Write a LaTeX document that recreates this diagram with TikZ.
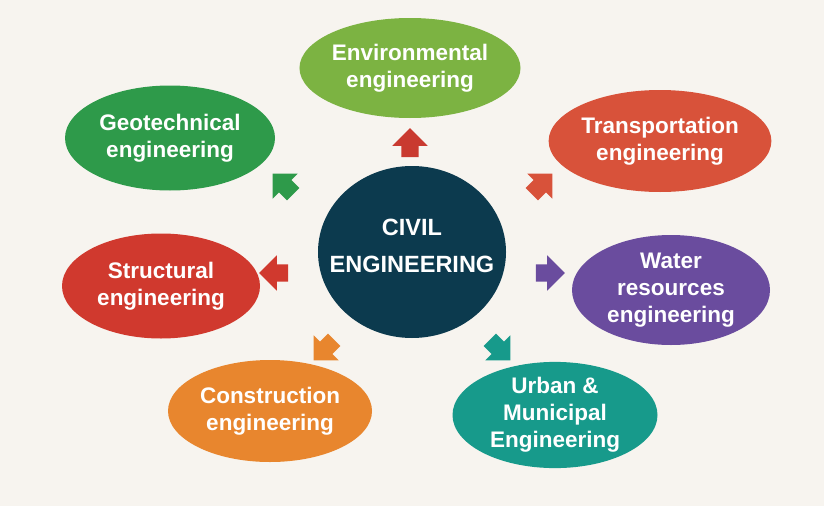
\documentclass[tikz,border=0pt]{standalone}
\usepackage{fontspec}
\setmainfont{Liberation Sans}
\usetikzlibrary{shapes.geometric,shapes.arrows}
\definecolor{bgcream}{HTML}{F7F4EF}
\definecolor{navy}{HTML}{0C3A4E}
\definecolor{envgreen}{HTML}{7CB342}
\definecolor{geogreen}{HTML}{2E9A4A}
\definecolor{transred}{HTML}{D8523A}
\definecolor{structred}{HTML}{D0392E}
\definecolor{waterpurple}{HTML}{6A4C9E}
\definecolor{constrorange}{HTML}{E8862E}
\definecolor{urbanteal}{HTML}{179A8B}
\definecolor{uparrow}{HTML}{C93A30}
\tikzset{
	branch/.style={ellipse, inner sep=0pt, text=white, align=center, font=\bfseries\fontsize{22.5}{27}\selectfont},
	fatarrow/.style={single arrow, inner sep=8.5pt, single arrow head extend=9pt, minimum height=29pt}
}

\begin{document}
\begin{tikzpicture}[x=1pt, y=-1pt]
			%%%%% START %%%%%
			
			\fill[bgcream] (0, 0) rectangle (824, 506);
			
			\node[ellipse, fill=navy, minimum width=188pt, minimum height=172pt, inner sep=0pt] (civil) at (412, 252) {};
			\node[text=white, align=center, font=\bfseries\fontsize{23.5}{37}\selectfont] (civiltext) at ([yshift=6pt]civil.center) {CIVIL\\ENGINEERING};
			
			\node[branch, fill=envgreen, minimum width=220pt, minimum height=100pt] (env) at (410, 68) {Environmental\\engineering};
			\node[branch, fill=geogreen, minimum width=210pt, minimum height=105pt] (geo) at (170, 138) {Geotechnical\\engineering};
			\node[branch, fill=transred, minimum width=215pt, minimum height=102pt] (trans) at (660, 141) {Transportation\\engineering};
			\node[branch, fill=structred, minimum width=198pt, minimum height=105pt] (struct) at (161, 286) {Structural\\engineering};
			\node[branch, fill=waterpurple, minimum width=198pt, minimum height=110pt] (water) at (671, 290) {Water\\resources\\engineering};
			\node[branch, fill=constrorange, minimum width=204pt, minimum height=102pt] (constr) at (270, 411) {Construction\\engineering};
			\node[branch, fill=urbanteal, minimum width=205pt, minimum height=106pt] (urban) at (555, 415) {Urban \&\\Municipal\\Engineering};
			
			% arrows out of the centre
			\node[fatarrow, fill=uparrow, rotate=90] (envarrow) at (410, 147) {};
			\node[fatarrow, fill=geogreen, rotate=135] (geoarrow) at (286, 187) {};
			\node[fatarrow, fill=transred, rotate=45] (transarrow) at (539, 187) {};
			\node[fatarrow, fill=structred, rotate=180] (structarrow) at (278, 273) {};
			\node[fatarrow, fill=waterpurple, rotate=0] (waterarrow) at (546, 273) {};
			\node[fatarrow, fill=constrorange, rotate=225] (constrarrow) at (327, 347) {};
			\node[fatarrow, fill=urbanteal, rotate=-45] (urbanarrow) at (497, 347) {};
			
			%%%%% END %%%%%
\end{tikzpicture}
\end{document}
